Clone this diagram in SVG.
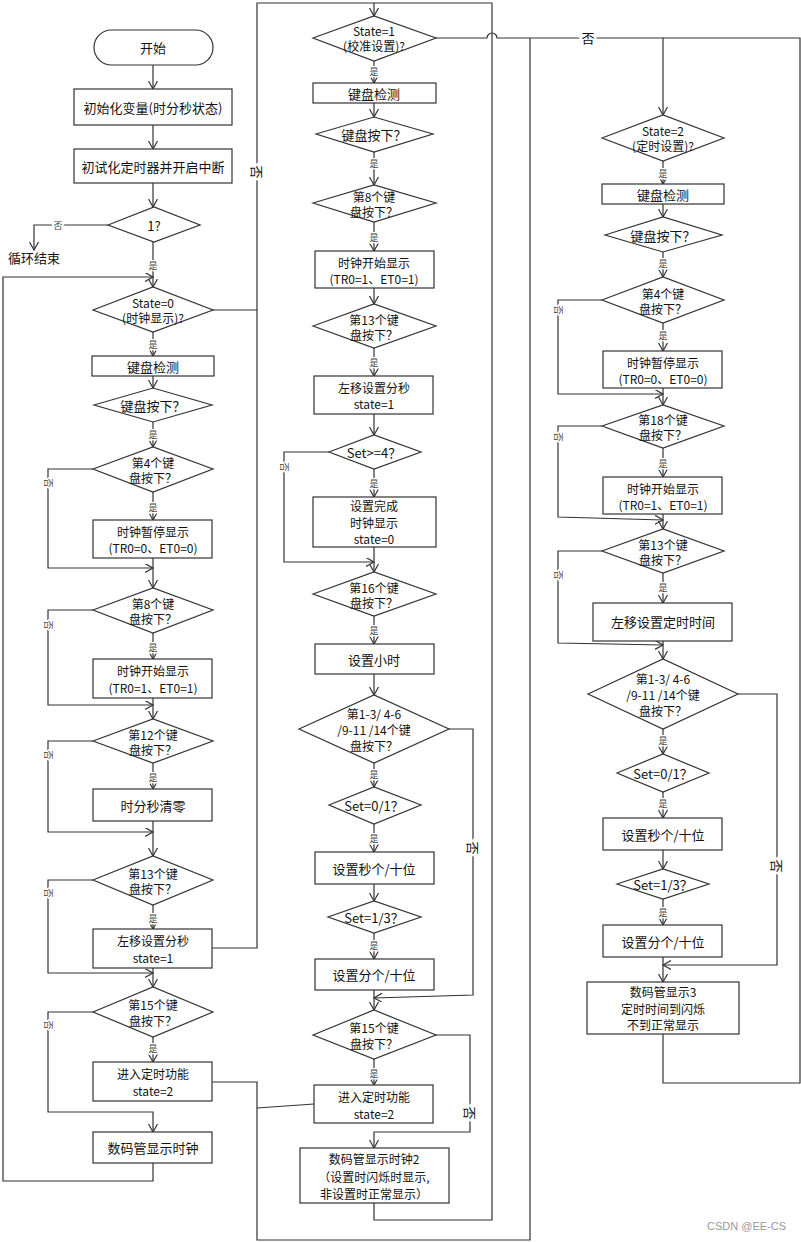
<svg xmlns="http://www.w3.org/2000/svg" width="801" height="1242" viewBox="0 0 801 1242">
<style>
.n{fill:#fff;stroke:#333;stroke-width:1.2}
.c{fill:none;stroke:#333;stroke-width:1.2}
.t{font-family:"Noto Sans CJK SC","Liberation Sans",sans-serif;font-size:13px;fill:#111;text-anchor:middle;dominant-baseline:central}
.m{font-size:12px}
.s{font-family:"Noto Sans CJK SC",sans-serif;font-size:9px;fill:#444;text-anchor:middle;dominant-baseline:central;stroke:#fff;stroke-width:3;paint-order:stroke}
.f{font-family:"Noto Sans CJK SC",sans-serif;font-size:13px;fill:#111;text-anchor:middle;dominant-baseline:central;stroke:#fff;stroke-width:4;paint-order:stroke}
.w{font-family:"Liberation Sans",sans-serif;font-size:11px;fill:#999;text-anchor:end}
</style>
<defs>
<marker id="a" markerWidth="10" markerHeight="10" refX="8" refY="4.5" orient="auto" markerUnits="userSpaceOnUse"><path d="M0,0 L8,4.5 L0,9" fill="none" stroke="#333" stroke-width="1.2"/></marker>
</defs>

<g id="connectors">
<path class="c" marker-end="url(#a)" d="M153,65 V89"/>
<path class="c" marker-end="url(#a)" d="M153,125 V149"/>
<path class="c" marker-end="url(#a)" d="M153,183 V207"/>
<path class="c" marker-end="url(#a)" d="M108,225 H34 V250"/>
<path class="c" marker-end="url(#a)" d="M153,242 V287"/>
<path class="c" marker-end="url(#a)" d="M153,1163 V1181 H3 V277 H153"/>
<path class="c" marker-end="url(#a)" d="M153,332 V356"/>
<path class="c" marker-end="url(#a)" d="M153,376 V388"/>
<path class="c" marker-end="url(#a)" d="M153,422 V447"/>
<path class="c" marker-end="url(#a)" d="M153,492 V520"/>
<path class="c" marker-end="url(#a)" d="M93,469 H48 V568 H153"/>
<path class="c" marker-end="url(#a)" d="M153,558 V588"/>
<path class="c" marker-end="url(#a)" d="M93,610 H48 V705 H153"/>
<path class="c" marker-end="url(#a)" d="M153,633 V659"/>
<path class="c" marker-end="url(#a)" d="M153,698 V719"/>
<path class="c" marker-end="url(#a)" d="M93,741 H48 V832 H153"/>
<path class="c" marker-end="url(#a)" d="M153,763 V789"/>
<path class="c" marker-end="url(#a)" d="M153,821 V856"/>
<path class="c" marker-end="url(#a)" d="M93,880 H48 V973 H153"/>
<path class="c" marker-end="url(#a)" d="M153,905 V929"/>
<path class="c" marker-end="url(#a)" d="M153,968 V987"/>
<path class="c" marker-end="url(#a)" d="M93,1012 H48 V1112 H153 V1132"/>
<path class="c" marker-end="url(#a)" d="M153,1037 V1062"/>
<path class="c" d="M212,1082 H257 V1240 H530 V38"/>
<path class="c" marker-end="url(#a)" d="M212,948 H257 V3 H374 V16"/>
<path class="c" d="M213,310 H257"/>

<path class="c" marker-end="url(#a)" d="M374,61 V83"/>
<path class="c" marker-end="url(#a)" d="M374,103 V117"/>
<path class="c" marker-end="url(#a)" d="M374,152 V185"/>
<path class="c" marker-end="url(#a)" d="M374,222 V251"/>
<path class="c" marker-end="url(#a)" d="M374,288 V304"/>
<path class="c" marker-end="url(#a)" d="M374,348 V376"/>
<path class="c" marker-end="url(#a)" d="M374,414 V435"/>
<path class="c" marker-end="url(#a)" d="M374,469 V497"/>
<path class="c" marker-end="url(#a)" d="M329,452 H284 V562 H374"/>
<path class="c" marker-end="url(#a)" d="M374,547 V572"/>
<path class="c" marker-end="url(#a)" d="M374,616 V644"/>
<path class="c" marker-end="url(#a)" d="M374,674 V695"/>
<path class="c" marker-end="url(#a)" d="M374,763 V787"/>
<path class="c" marker-end="url(#a)" d="M374,824 V852"/>
<path class="c" marker-end="url(#a)" d="M374,884 V901"/>
<path class="c" marker-end="url(#a)" d="M374,933 V959"/>
<path class="c" marker-end="url(#a)" d="M374,990 V1010"/>
<path class="c" marker-end="url(#a)" d="M449,729 H473 V995 L374,998"/>
<path class="c" marker-end="url(#a)" d="M374,1059 V1085"/>
<path class="c" marker-end="url(#a)" d="M436,1035 H470 V1132 H374 V1148"/>
<path class="c" d="M314,1104 L257,1108"/>
<path class="c" d="M374,1203 V1220 H492 V3 H374"/>
<path class="c" marker-end="url(#a)" d="M436,38 H487 A5,5 0 0 1 497,38 H663 V115"/>

<path class="c" marker-end="url(#a)" d="M663,161 V184"/>
<path class="c" marker-end="url(#a)" d="M663,204 V217"/>
<path class="c" marker-end="url(#a)" d="M663,252 V277"/>
<path class="c" marker-end="url(#a)" d="M663,323 V351"/>
<path class="c" marker-end="url(#a)" d="M602,300 H558 V394 H663"/>
<path class="c" marker-end="url(#a)" d="M663,388 V405"/>
<path class="c" marker-end="url(#a)" d="M663,448 V477"/>
<path class="c" marker-end="url(#a)" d="M602,426 H558 V517 L663,520"/>
<path class="c" marker-end="url(#a)" d="M663,514 V529"/>
<path class="c" marker-end="url(#a)" d="M663,573 V603"/>
<path class="c" marker-end="url(#a)" d="M602,551 H558 V643 L663,645"/>
<path class="c" marker-end="url(#a)" d="M663,641 V659"/>
<path class="c" marker-end="url(#a)" d="M663,729 V754"/>
<path class="c" marker-end="url(#a)" d="M663,792 V818"/>
<path class="c" marker-end="url(#a)" d="M663,850 V869"/>
<path class="c" marker-end="url(#a)" d="M663,899 V925"/>
<path class="c" marker-end="url(#a)" d="M663,957 V982"/>
<path class="c" marker-end="url(#a)" d="M738,694 H777 V965 H663"/>
<path class="c" d="M663,1034 V1083 H800 V38 H663"/>

<text class="s" x="58" y="225">否</text>
<text class="s" x="153" y="265">是</text>
<text class="s" x="153" y="344">是</text>
<text class="s" x="153" y="434">是</text>
<text class="s" x="153" y="507">是</text>
<text class="s" x="153" y="647">是</text>
<text class="s" x="153" y="777">是</text>
<text class="s" x="153" y="918">是</text>
<text class="s" x="153" y="1048">是</text>
<text class="s" transform="translate(48,483) rotate(90)">否</text>
<text class="s" transform="translate(48,625) rotate(90)">否</text>
<text class="s" transform="translate(48,755) rotate(90)">否</text>
<text class="s" transform="translate(48,893) rotate(90)">否</text>
<text class="s" transform="translate(48,1025) rotate(90)">否</text>
<text class="f" transform="translate(257,172) rotate(90)">否</text>

<text class="s" x="374" y="71">是</text>
<text class="s" x="374" y="163">是</text>
<text class="s" x="374" y="237">是</text>
<text class="s" x="374" y="362">是</text>
<text class="s" x="374" y="483">是</text>
<text class="s" x="374" y="630">是</text>
<text class="s" x="374" y="774">是</text>
<text class="s" x="374" y="838">是</text>
<text class="s" x="374" y="945">是</text>
<text class="s" x="374" y="1073">是</text>
<text class="s" transform="translate(284,467) rotate(90)">否</text>
<text class="f" transform="translate(473,848) rotate(90)">否</text>
<text class="f" transform="translate(470,1113) rotate(90)">否</text>
<text class="f" x="588" y="37">否</text>

<text class="s" x="663" y="173">是</text>
<text class="s" x="663" y="263">是</text>
<text class="s" x="663" y="335">是</text>
<text class="s" x="663" y="463">是</text>
<text class="s" x="663" y="587">是</text>
<text class="s" x="663" y="740">是</text>
<text class="s" x="663" y="803">是</text>
<text class="s" x="663" y="912">是</text>
<text class="s" transform="translate(558,310) rotate(90)">否</text>
<text class="s" transform="translate(558,437) rotate(90)">否</text>
<text class="s" transform="translate(558,575) rotate(90)">否</text>
<text class="f" transform="translate(777,866) rotate(90)">否</text>
</g>

<g id="start"><rect class="n" x="94" y="30" width="119" height="35" rx="17.5"/><text class="t" x="153" y="47.5">开始</text></g>
<g id="init-vars"><rect class="n" x="74" y="89" width="158" height="36"/><text class="t" x="153" y="107">初始化变量(时分秒状态)</text></g>
<g id="init-timer"><rect class="n" x="74" y="149" width="158" height="34"/><text class="t" x="153" y="166">初试化定时器并开启中断</text></g>
<g id="loop"><polygon class="n" points="108,225 154,207 200,225 154,242"/><text class="t" x="154" y="225">1?</text></g>
<g id="loop-end"><text class="t" x="34" y="257">循环结束</text></g>
<g id="state0"><polygon class="n" points="93,310 153,287 213,310 153,332"/><text class="t m" x="153" y="302.5">State=0</text><text class="t m" x="153" y="317.5">(时钟显示)?</text></g>
<g id="c1-kbd"><rect class="n" x="92" y="356" width="122" height="20"/><text class="t" x="153" y="366">键盘检测</text></g>
<g id="c1-press"><polygon class="n" points="94,405 153,388 212,405 153,422"/><text class="t" x="153" y="405">键盘按下？</text></g>
<g id="c1-k4"><polygon class="n" points="93,469 153,447 213,469 153,492"/><text class="t m" x="153" y="462">第4个键</text><text class="t m" x="153" y="477">盘按下？</text></g>
<g id="c1-pause"><rect class="n" x="93" y="520" width="119" height="38"/><text class="t m" x="153" y="531">时钟暂停显示</text><text class="t m" x="153" y="547">(TR0=0、ET0=0)</text></g>
<g id="c1-k8"><polygon class="n" points="93,610 153,588 213,610 153,633"/><text class="t m" x="153" y="603">第8个键</text><text class="t m" x="153" y="618">盘按下？</text></g>
<g id="c1-run"><rect class="n" x="93" y="659" width="119" height="39"/><text class="t m" x="153" y="670">时钟开始显示</text><text class="t m" x="153" y="687">(TR0=1、ET0=1)</text></g>
<g id="c1-k12"><polygon class="n" points="93,741 153,719 213,741 153,763"/><text class="t m" x="153" y="734">第12个键</text><text class="t m" x="153" y="749">盘按下？</text></g>
<g id="c1-clear"><rect class="n" x="93" y="789" width="119" height="32"/><text class="t" x="153" y="805">时分秒清零</text></g>
<g id="c1-k13"><polygon class="n" points="93,880 153,856 213,880 153,905"/><text class="t m" x="153" y="873">第13个键</text><text class="t m" x="153" y="888">盘按下？</text></g>
<g id="c1-shift"><rect class="n" x="93" y="929" width="119" height="39"/><text class="t m" x="153" y="940">左移设置分秒</text><text class="t m" x="153" y="957">state=1</text></g>
<g id="c1-k15"><polygon class="n" points="93,1012 153,987 213,1012 153,1037"/><text class="t m" x="153" y="1004">第15个键</text><text class="t m" x="153" y="1020">盘按下？</text></g>
<g id="c1-timer"><rect class="n" x="93" y="1062" width="119" height="39"/><text class="t m" x="153" y="1073">进入定时功能</text><text class="t m" x="153" y="1090">state=2</text></g>
<g id="c1-display"><rect class="n" x="93" y="1132" width="119" height="31"/><text class="t" x="153" y="1147.5">数码管显示时钟</text></g>

<g id="state1"><polygon class="n" points="313,38 374,16 436,38 374,61"/><text class="t m" x="374" y="30.5">State=1</text><text class="t m" x="374" y="45.5">(校准设置)?</text></g>
<g id="c2-kbd"><rect class="n" x="313" y="83" width="123" height="20"/><text class="t" x="374" y="93">键盘检测</text></g>
<g id="c2-press"><polygon class="n" points="316,134 374,117 433,134 374,152"/><text class="t" x="374" y="134">键盘按下？</text></g>
<g id="c2-k8"><polygon class="n" points="313,203 374,185 436,203 374,222"/><text class="t m" x="374" y="196">第8个键</text><text class="t m" x="374" y="211">盘按下？</text></g>
<g id="c2-run"><rect class="n" x="315" y="251" width="119" height="37"/><text class="t m" x="374" y="262">时钟开始显示</text><text class="t m" x="374" y="278">(TR0=1、ET0=1)</text></g>
<g id="c2-k13"><polygon class="n" points="313,326 374,304 436,326 374,348"/><text class="t m" x="374" y="319">第13个键</text><text class="t m" x="374" y="334">盘按下？</text></g>
<g id="c2-shift"><rect class="n" x="314" y="376" width="119" height="38"/><text class="t m" x="374" y="387">左移设置分秒</text><text class="t m" x="374" y="403">state=1</text></g>
<g id="c2-set4"><polygon class="n" points="329,452 374,435 421,452 374,469"/><text class="t" x="374" y="452">Set&gt;=4？</text></g>
<g id="c2-done"><rect class="n" x="313" y="497" width="123" height="50"/><text class="t m" x="374" y="505">设置完成</text><text class="t m" x="374" y="522">时钟显示</text><text class="t m" x="374" y="538">state=0</text></g>
<g id="c2-k16"><polygon class="n" points="313,594 374,572 436,594 374,616"/><text class="t m" x="374" y="587">第16个键</text><text class="t m" x="374" y="602">盘按下？</text></g>
<g id="c2-hour"><rect class="n" x="315" y="644" width="119" height="30"/><text class="t" x="374" y="659">设置小时</text></g>
<g id="c2-keys"><polygon class="n" points="299,729 374,695 449,729 374,763"/><text class="t m" x="374" y="713">第1-3/ 4-6</text><text class="t m" x="374" y="729">/9-11 /14个键</text><text class="t m" x="374" y="745">盘按下？</text></g>
<g id="c2-set01"><polygon class="n" points="329,805 374,787 421,805 374,824"/><text class="t" x="374" y="805">Set=0/1？</text></g>
<g id="c2-sec"><rect class="n" x="315" y="852" width="119" height="32"/><text class="t" x="374" y="868">设置秒个/十位</text></g>
<g id="c2-set13"><polygon class="n" points="328,917 374,901 421,917 374,933"/><text class="t" x="374" y="917">Set=1/3？</text></g>
<g id="c2-min"><rect class="n" x="315" y="959" width="119" height="31"/><text class="t" x="374" y="974.5">设置分个/十位</text></g>
<g id="c2-k15"><polygon class="n" points="313,1035 374,1010 436,1035 374,1059"/><text class="t m" x="374" y="1027">第15个键</text><text class="t m" x="374" y="1043">盘按下？</text></g>
<g id="c2-timer"><rect class="n" x="314" y="1085" width="119" height="38"/><text class="t m" x="374" y="1096">进入定时功能</text><text class="t m" x="374" y="1113">state=2</text></g>
<g id="c2-display"><rect class="n" x="300" y="1148" width="149" height="55"/><text class="t m" x="374" y="1158">数码管显示时钟2</text><text class="t m" x="374" y="1176">（设置时闪烁时显示,</text><text class="t m" x="374" y="1193">非设置时正常显示）</text></g>

<g id="state2"><polygon class="n" points="602,138 663,115 724,138 663,161"/><text class="t m" x="663" y="130.5">State=2</text><text class="t m" x="663" y="145.5">(定时设置)?</text></g>
<g id="c3-kbd"><rect class="n" x="602" y="184" width="122" height="20"/><text class="t" x="663" y="194">键盘检测</text></g>
<g id="c3-press"><polygon class="n" points="605,235 663,217 722,235 663,252"/><text class="t" x="663" y="235">键盘按下？</text></g>
<g id="c3-k4"><polygon class="n" points="602,300 663,277 724,300 663,323"/><text class="t m" x="663" y="293">第4个键</text><text class="t m" x="663" y="308">盘按下？</text></g>
<g id="c3-pause"><rect class="n" x="603" y="351" width="119" height="37"/><text class="t m" x="663" y="362">时钟暂停显示</text><text class="t m" x="663" y="378">(TR0=0、ET0=0)</text></g>
<g id="c3-k18"><polygon class="n" points="602,426 663,405 724,426 663,448"/><text class="t m" x="663" y="419">第18个键</text><text class="t m" x="663" y="434">盘按下？</text></g>
<g id="c3-run"><rect class="n" x="603" y="477" width="119" height="37"/><text class="t m" x="663" y="488">时钟开始显示</text><text class="t m" x="663" y="504">(TR0=1、ET0=1)</text></g>
<g id="c3-k13"><polygon class="n" points="602,551 663,529 724,551 663,573"/><text class="t m" x="663" y="544">第13个键</text><text class="t m" x="663" y="559">盘按下？</text></g>
<g id="c3-shift"><rect class="n" x="593" y="603" width="139" height="38"/><text class="t" x="663" y="621">左移设置定时时间</text></g>
<g id="c3-keys"><polygon class="n" points="588,694 663,659 738,694 663,729"/><text class="t m" x="663" y="678">第1-3/ 4-6</text><text class="t m" x="663" y="694">/9-11 /14个键</text><text class="t m" x="663" y="710">盘按下？</text></g>
<g id="c3-set01"><polygon class="n" points="617,773 663,754 709,773 663,792"/><text class="t" x="663" y="773">Set=0/1？</text></g>
<g id="c3-sec"><rect class="n" x="603" y="818" width="119" height="32"/><text class="t" x="663" y="834">设置秒个/十位</text></g>
<g id="c3-set13"><polygon class="n" points="617,884 663,869 709,884 663,899"/><text class="t" x="663" y="884">Set=1/3？</text></g>
<g id="c3-min"><rect class="n" x="603" y="925" width="119" height="32"/><text class="t" x="663" y="941">设置分个/十位</text></g>
<g id="c3-display"><rect class="n" x="587" y="982" width="152" height="52"/><text class="t m" x="663" y="991">数码管显示3</text><text class="t m" x="663" y="1008">定时时间到闪烁</text><text class="t m" x="663" y="1024">不到正常显示</text></g>

<text class="w" x="786" y="1230">CSDN @EE-CS</text>
</svg>
